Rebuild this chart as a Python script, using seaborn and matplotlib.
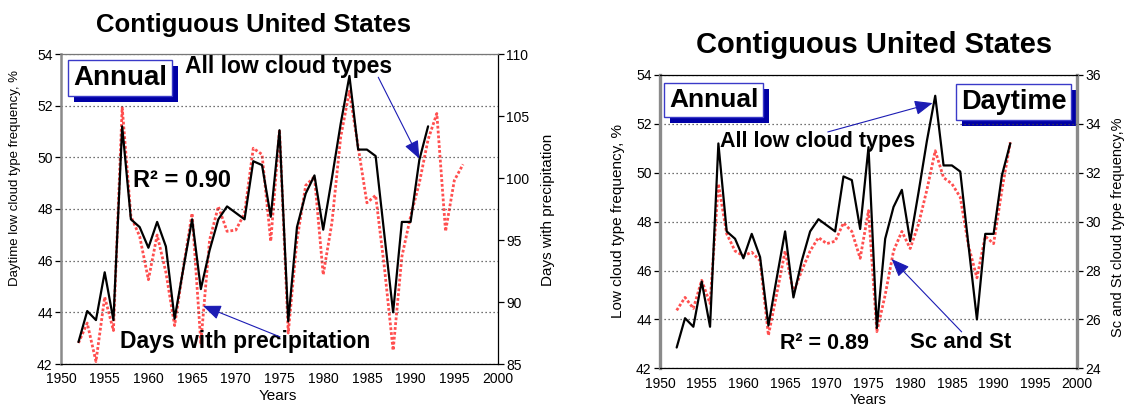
import matplotlib
matplotlib.use("Agg")
import matplotlib.pyplot as plt
from matplotlib.patches import Rectangle
import seaborn as sns

# annual values, contiguous United States
years = list(range(1952, 1993))
low_cloud = [42.85, 44.05, 43.7, 45.55, 43.7, 51.2, 47.6, 47.3, 46.5, 47.5,
             46.55, 43.75, 45.7, 47.6, 44.9, 46.4, 47.6, 48.1, 47.85, 47.6,
             49.85, 49.7, 47.7, 51.05, 43.65, 47.3, 48.6, 49.3, 47.2, 49.2,
             51.3, 53.15, 50.3, 50.3, 50.05, 47.0, 44.0, 47.5, 47.5, 49.9, 51.2]

precip_years = list(range(1952, 1997))
precip_days = [86.7, 88.3, 85.2, 90.4, 87.7, 105.7, 96.9, 95.3, 91.8, 95.4,
               92.4, 88.1, 92.8, 97.15, 86.7, 95.0, 97.7, 95.7, 95.8, 97.15,
               102.4, 101.9, 94.9, 103.9, 87.5, 95.0, 99.4, 100.1, 92.2, 96.4,
               103.3, 107.0, 102.5, 98.0, 98.6, 92.8, 86.1, 93.65, 96.9, 99.6,
               103.1, 105.2, 95.7, 99.8, 101.1]

sc_st = [26.37, 26.9, 26.45, 27.6, 26.65, 31.55, 29.5, 28.8, 28.6, 28.75,
         28.4, 25.35, 27.05, 28.8, 27.1, 28.0, 28.8, 29.35, 29.1, 29.2,
         29.95, 29.6, 28.5, 30.45, 25.5, 27.0, 28.8, 29.6, 28.9, 29.9,
         31.3, 32.9, 31.8, 31.55, 31.0, 29.0, 27.7, 29.4, 29.1, 31.3, 33.25]

x_ticks = list(range(1950, 2001, 5))
left_ticks = list(range(42, 55, 2))
precip_ticks = list(range(85, 111, 5))
sc_ticks = list(range(24, 37, 2))

sns.set_style("white")
plt.rcParams['font.family'] = ['Liberation Sans', 'DejaVu Sans']
plt.rcParams['text.color'] = 'black'
plt.rcParams['axes.labelcolor'] = 'black'
plt.rcParams['xtick.color'] = 'black'
plt.rcParams['ytick.color'] = 'black'

W, H = 1128, 408
fig = plt.figure(figsize=(W / 100, H / 100), dpi=100)
fig.patch.set_facecolor('white')


def px_axes(x0, y0, x1, y1):
    return fig.add_axes([x0 / W, 1 - y1 / H, (x1 - x0) / W, (y1 - y0) / H])


red = '#ff4f4f'
red_dash = (0, (1.0, 0.75))
box_edge = '#3a3ac8'
shadow = '#0000a6'
arrow_col = '#1c1cb4'


def style_axes(ax, twin, left_col, left_lw, right_col, right_lw, top_col):
    ax.set_zorder(2)
    ax.patch.set_visible(False)
    twin.set_zorder(1)
    for s in ['left', 'top', 'bottom']:
        twin.spines[s].set_visible(False)
    ax.spines['right'].set_visible(False)
    ax.spines['left'].set_color(left_col)
    ax.spines['left'].set_linewidth(left_lw)
    ax.spines['top'].set_color(top_col)
    ax.spines['top'].set_linewidth(0.9)
    ax.spines['bottom'].set_color('black')
    ax.spines['bottom'].set_linewidth(0.9)
    twin.spines['right'].set_color(right_col)
    twin.spines['right'].set_linewidth(right_lw)
    for a in (ax, twin):
        a.tick_params(direction='out', length=4, width=0.9, labelsize=10,
                      pad=2, colors='black')
    ax.set_xlim(1950, 2000)
    ax.set_xticks(x_ticks)
    ax.set_ylim(42, 54)
    ax.set_yticks(left_ticks)
    ax.yaxis.grid(True, linestyle=(0, (1, 2.2)), color='#444444', lw=0.9)
    ax.set_xlabel('')
    ax.set_ylabel('')
    twin.set_ylabel('')


boxes = []


def boxed_label(ax, x, y, text, size):
    t = ax.text(x, y, text, ha='center', va='center', fontsize=size,
                fontweight='bold', color='black', zorder=6,
                bbox=dict(boxstyle='square,pad=0.18', fc='white', ec=box_edge, lw=1))
    boxes.append(t)


def arrow(ax, start, tip):
    ax.annotate('', xy=tip, xytext=start, zorder=7,
                arrowprops=dict(arrowstyle='-|>,head_length=1.1,head_width=0.45',
                                color=arrow_col, lw=0.8, shrinkA=0, shrinkB=0))


# ---------------- left chart ----------------
ax1 = px_axes(61, 54, 498, 364)
ax1r = ax1.twinx()
sns.lineplot(x=years, y=low_cloud, ax=ax1, color='black', lw=1.6)
sns.lineplot(x=precip_years, y=precip_days, ax=ax1r, color=red, lw=2.0,
             linestyle=red_dash)
style_axes(ax1, ax1r, '#8a8a8a', 1.8, 'black', 0.9, '#777777')
ax1r.set_ylim(85, 110)
ax1r.set_yticks(precip_ticks)

boxed_label(ax1, 1956.75, 53.09, 'Annual', 20)
ax1.text(1964.2, 53.25, 'All low cloud types', fontsize=16.5, fontweight='bold',
         va='baseline', zorder=6)
ax1.text(1958.2, 48.87, 'R\u00b2 = 0.90', fontsize=17, fontweight='bold',
         va='baseline', zorder=6)
ax1.text(1956.75, 42.61, 'Days with precipitation', fontsize=16.5,
         fontweight='bold', va='baseline', zorder=6)
arrow(ax1, (1986.3, 53.1), (1991.0, 49.95))
arrow(ax1, (1975.06, 43.05), (1966.25, 44.25))

fig.text(253 / W, 1 - 31.7 / H, 'Contiguous United States', ha='center',
         va='baseline', fontsize=18.5, fontweight='bold')
fig.text(15 / W, 1 - 178 / H, 'Daytime low cloud type frequency, %',
         rotation=90, ha='center', va='center', fontsize=9.5)
fig.text(548 / W, 1 - 210 / H, 'Days with precipitation', rotation=90,
         ha='center', va='center', fontsize=11)
fig.text(278 / W, 1 - 396 / H, 'Years', ha='center', va='center', fontsize=11)

# ---------------- right chart ----------------
ax2 = px_axes(660, 75, 1077, 368.3)
ax2r = ax2.twinx()
sns.lineplot(x=years, y=low_cloud, ax=ax2, color='black', lw=1.6)
sns.lineplot(x=years, y=sc_st, ax=ax2r, color=red, lw=2.0, linestyle=red_dash)
style_axes(ax2, ax2r, '#8a8a8a', 2.4, '#8a8a8a', 2.4, 'black')
ax2r.set_ylim(24, 36)
ax2r.set_yticks(sc_ticks)

boxed_label(ax2, 1956.44, 52.98, 'Annual', 19)
boxed_label(ax2, 1992.42, 52.91, 'Daytime', 19.5)
ax2.text(1957.19, 51.07, 'All low cloud types', fontsize=15.5, fontweight='bold',
         va='baseline', zorder=6)
ax2.text(1964.37, 42.78, 'R\u00b2 = 0.89', fontsize=15.5, fontweight='bold',
         va='baseline', zorder=6)
ax2.text(1979.94, 42.84, 'Sc and St', fontsize=16, fontweight='bold',
         va='baseline', zorder=6)
arrow(ax2, (1970.12, 51.67), (1982.69, 52.85))
arrow(ax2, (1986.17, 43.49), (1977.78, 46.47))

fig.text(874 / W, 1 - 53.3 / H, 'Contiguous United States', ha='center',
         va='baseline', fontsize=21, fontweight='bold')
fig.text(618 / W, 1 - 221 / H, 'Low cloud type frequency, %', rotation=90,
         ha='center', va='center', fontsize=11)
fig.text(1118 / W, 1 - 227 / H, 'Sc and St cloud type frequency,%', rotation=90,
         ha='center', va='center', fontsize=10.5)
fig.text(868 / W, 1 - 400 / H, 'Years', ha='center', va='center', fontsize=10.5)

# drop shadows behind the boxed labels, offset 6 px right and down
fig.canvas.draw()
renderer = fig.canvas.get_renderer()
for t in boxes:
    bb = t.get_bbox_patch().get_window_extent(renderer)
    fig.add_artist(Rectangle(((bb.x0 + 6) / W, (bb.y0 - 6) / H), bb.width / W,
                             bb.height / H, transform=fig.transFigure,
                             fc=shadow, ec='none', zorder=1))
    # keep the white box above the shadow
    t.set_zorder(6)

ax1.set_zorder(3)
ax2.set_zorder(3)

fig.savefig('out.png', dpi=100)
